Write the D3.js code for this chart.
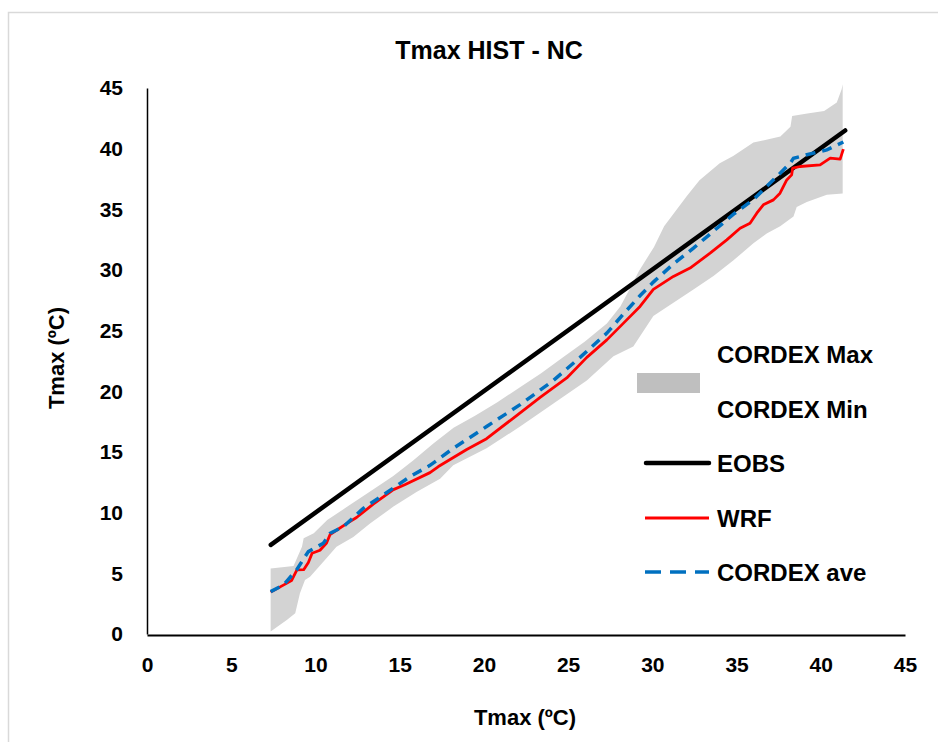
<!DOCTYPE html>
<html>
<head>
<meta charset="utf-8">
<script src="https://cdn.jsdelivr.net/npm/d3@7"></script>
<style>
  body { margin: 0; background: #fff; }
  text { font-family: "Liberation Sans", Arial, sans-serif; font-weight: bold; fill: #000; }
</style>
</head>
<body>
<svg id="chart"></svg>
<script>
var width = 938;
var height = 742;

// tick labels
var xTicks = [0, 5, 10, 15, 20, 25, 30, 35, 40, 45];
var yTicks = [0, 5, 10, 15, 20, 25, 30, 35, 40, 45];

// EOBS quantiles vs itself
var eobs = [[7.35, 7.35], [41.45, 41.5]];

// WRF quantiles
var wrf = [[7.34,3.45],[8.58,4.4],[8.9,5.28],[9.3,5.3],[9.58,5.9],[9.8,6.65],[10.27,6.9],[10.66,7.5],[10.87,8.2],
  [11.85,9.1],[12.44,9.6],[13.43,10.7],[14.63,11.9],[15.3,12.3],[16.8,13.3],[17.3,13.8],[18.98,15.2],[20.16,16.1],
  [21.75,17.8],[23.34,19.5],[24.92,21.1],[26.11,22.8],[27.3,24.24],[28.48,25.89],[29.27,27.0],[30.06,28.4],
  [31.25,29.47],[32.24,30.16],[33.43,31.39],[34.42,32.48],[35.21,33.44],[35.8,33.86],[36.2,34.68],[36.59,35.37],
  [37.19,35.78],[37.58,36.33],[37.98,37.42],[38.27,37.84],[38.33,38.39],[38.77,38.53],[39.96,38.66],[40.56,39.22],
  [41.15,39.14],[41.34,39.96]];

// CORDEX ensemble mean
var cordexAve = [[7.34,3.49],[8.1,4.04],[8.88,5.28],[9.38,6.38],[9.58,6.79],[10.47,7.48],[10.87,8.3],[11.66,8.85],
  [12.84,10.36],[14.03,11.46],[15.61,12.97],[16.8,13.9],[18.18,15.3],[20.16,17.1],[22.15,18.9],[24.13,20.9],
  [25.71,22.8],[27.3,24.8],[28.3,26.4],[29.28,27.9],[30.06,29.0],[31.25,30.5],[32.44,31.8],[33.63,33.2],
  [34.82,34.6],[36.0,35.8],[36.79,36.88],[37.59,37.98],[38.18,38.8],[38.38,39.2],[39.17,39.5],[40.36,39.9],
  [41.34,40.55]];

// CORDEX envelope
var cordexMax = [[7.34,5.4],[8.7,5.6],[9.2,7.2],[9.3,7.9],[9.9,8.3],[10.7,9.4],[11.9,10.5],[13.2,11.7],[14.6,13.0],
  [15.8,14.3],[17.0,15.7],[18.2,17.0],[19.5,18.0],[20.8,19.1],[22.1,20.3],[23.4,21.5],[24.7,22.8],[26.0,24.1],
  [27.3,25.6],[28.1,27.0],[28.6,28.3],[29.2,29.9],[30.1,31.9],[30.7,33.6],[32.05,36.1],[32.8,37.4],[34.0,38.8],
  [34.8,39.4],[36.0,40.5],[37.6,41.0],[38.2,41.8],[38.3,42.7],[39.2,42.9],[40.2,43.1],[40.95,43.8],[41.24,44.9],
  [41.3,45.3]];
var cordexMin = [[7.34,0.2],[8.3,1.15],[8.8,1.7],[9.08,3.35],[9.38,4.45],[9.68,4.72],[10.47,5.96],[11.25,7.2],
  [12.25,8.0],[13.24,9.1],[14.63,10.5],[16.0,11.7],[17.4,12.8],[18.18,13.9],[20.16,15.3],[22.15,17.1],[24.13,19.0],
  [26.11,20.9],[27.69,22.9],[28.87,23.7],[30.06,26.2],[31.25,27.3],[32.44,28.4],[33.63,29.5],[34.82,30.8],
  [36.0,32.2],[36.79,33.0],[37.59,33.6],[38.38,34.4],[38.57,35.2],[39.17,35.6],[40.36,36.2],[41.3,36.3]];

var legendItems = ["CORDEX Max", "CORDEX Min", "EOBS", "WRF", "CORDEX ave"];

var svg = d3.select("#chart")
  .attr("width", width)
  .attr("height", height);

// chart frame
svg.append("rect")
  .attr("x", 8.5).attr("y", 12.5)
  .attr("width", 940).attr("height", 740)
  .style("fill", "#fff").style("stroke", "#d9d9d9").style("stroke-width", 1.5);

var x = d3.scaleLinear().domain([0, 45]).range([147, 905]);
var y = d3.scaleLinear().domain([0, 45]).range([634, 88]);

var line = d3.line()
  .x(function(d) { return x(d[0]); })
  .y(function(d) { return y(d[1]); });

// envelope polygon: max forward, min backward
var band = cordexMax.concat(cordexMin.slice().reverse());
svg.append("path")
  .attr("d", line(band) + "Z")
  .style("fill", "#d3d3d3").style("stroke", "none");

svg.append("path")
  .attr("d", line(eobs))
  .style("fill", "none").style("stroke", "#000").style("stroke-width", 4.5)
  .style("stroke-linecap", "round");

svg.append("path")
  .attr("d", line(wrf))
  .style("fill", "none").style("stroke", "#ff0000").style("stroke-width", 2.8)
  .style("stroke-linejoin", "round");

svg.append("path")
  .attr("d", line(cordexAve))
  .style("fill", "none").style("stroke", "#0070c0").style("stroke-width", 3.5)
  .style("stroke-dasharray", "10,7");

// axes
var xAxis = svg.append("g")
  .attr("transform", "translate(0,635)")
  .call(d3.axisBottom(x).tickValues(xTicks).tickSize(0).tickPadding(22));
xAxis.select(".domain").style("stroke", "#000").style("stroke-width", 2);
xAxis.selectAll("text")
  .style("font-family", '"Liberation Sans", Arial, sans-serif')
  .style("font-weight", "bold").style("font-size", "21px").style("fill", "#000");

var yAxis = svg.append("g")
  .attr("transform", "translate(147,0)")
  .call(d3.axisLeft(y).tickValues(yTicks).tickSize(0).tickPadding(24));
yAxis.select(".domain").style("stroke", "#000").style("stroke-width", 1.5);
yAxis.selectAll("text")
  .style("font-family", '"Liberation Sans", Arial, sans-serif')
  .style("font-weight", "bold").style("font-size", "21px").style("fill", "#000");

// titles
svg.append("text")
  .attr("x", 489).attr("y", 59)
  .attr("text-anchor", "middle")
  .style("font-size", "25px")
  .text("Tmax HIST - NC");

svg.append("text")
  .attr("x", 525).attr("y", 725)
  .attr("text-anchor", "middle")
  .style("font-size", "22px")
  .text("Tmax (ºC)");

svg.append("text")
  .attr("transform", "translate(64,358) rotate(-90)")
  .attr("text-anchor", "middle")
  .style("font-size", "22px")
  .text("Tmax (ºC)");

// legend
var lg = svg.append("g");
lg.append("rect")
  .attr("x", 637).attr("y", 373).attr("width", 63).attr("height", 20)
  .style("fill", "#bfbfbf");
var legendY = [363, 418, 472, 527, 581];
lg.selectAll("text.leg")
  .data(legendItems)
  .enter()
  .append("text")
  .attr("class", "leg")
  .attr("x", 717)
  .attr("y", function(d, i) { return legendY[i]; })
  .style("font-size", "24px")
  .text(function(d) { return d; });

lg.append("line").attr("x1", 646).attr("x2", 709).attr("y1", 463).attr("y2", 463)
  .style("stroke", "#000").style("stroke-width", 4.5).style("stroke-linecap", "round");
lg.append("line").attr("x1", 645).attr("x2", 709).attr("y1", 518).attr("y2", 518)
  .style("stroke", "#ff0000").style("stroke-width", 3);
lg.append("line").attr("x1", 645).attr("x2", 709).attr("y1", 572).attr("y2", 572)
  .style("stroke", "#0070c0").style("stroke-width", 3.5).style("stroke-dasharray", "16,9");
</script>
</body>
</html>
